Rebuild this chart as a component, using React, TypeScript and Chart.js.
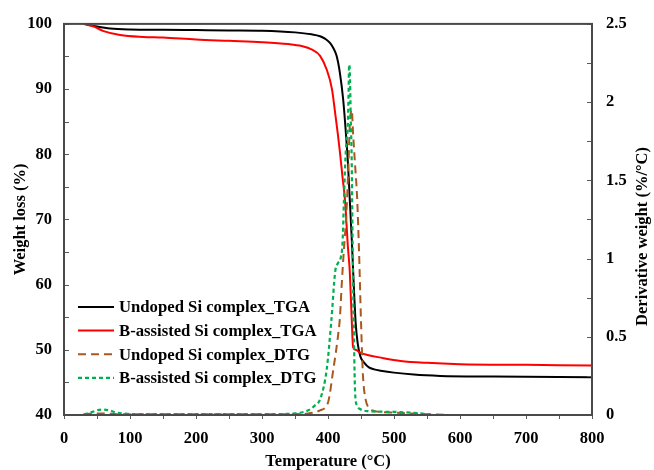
import { useEffect, useRef } from "react";
import { Chart, registerables } from "chart.js";

Chart.register(...registerables);

// ---- Data ----
const undopedTgaT = [30, 50, 70, 100, 150, 200, 250, 300, 350, 375, 388, 396, 403, 408, 413, 418, 423, 427, 430, 433, 436, 439, 442, 445, 449, 455, 462, 470, 480, 500, 530, 570, 650, 800];
const undopedTgaW = [100, 99.6, 99.3, 99.15, 99.1, 99.05, 99.0, 98.95, 98.7, 98.4, 98.1, 97.7, 97.1, 96.3, 95.1, 92.5, 88.4, 83.4, 79, 73, 67, 60, 54, 51, 49, 48, 47.3, 47.0, 46.8, 46.5, 46.2, 46.0, 45.9, 45.8];

const bAssistedTgaT = [30, 45, 60, 85, 120, 150, 200, 250, 300, 340, 360, 375, 388, 398, 406, 411, 415, 418, 422, 426, 430, 433, 436, 438, 442, 448, 460, 480, 510, 550, 600, 700, 800];
const bAssistedTgaW = [100, 99.6, 98.9, 98.3, 98.0, 97.9, 97.6, 97.4, 97.2, 96.9, 96.6, 96.1, 95.1, 93, 90, 86.2, 83, 80.4, 76.5, 72.7, 66, 62, 54.5, 50.4, 50.0, 49.6, 49.2, 48.8, 48.3, 48.0, 47.8, 47.7, 47.6];

const undopedDtgT = [30, 45, 60, 80, 120, 200, 300, 340, 370, 388, 400, 408, 415, 418, 421, 424, 428, 431, 433, 436, 438, 441, 444, 447, 450, 453, 457, 461, 466, 500, 550, 600, 800];
const undopedDtgV = [0.005, 0.01, 0.01, 0.005, 0.005, 0.005, 0.005, 0.005, 0.01, 0.03, 0.08, 0.29, 0.5, 0.62, 0.85, 1.05, 1.3, 1.6, 1.85, 1.95, 1.8, 1.6, 1.4, 1.05, 0.6, 0.25, 0.1, 0.05, 0.03, 0.015, 0.005, 0, 0];

const bAssistedDtgT = [30, 40, 50, 58, 68, 80, 95, 120, 200, 300, 350, 370, 380, 388, 398, 405, 411, 415, 419, 422, 424, 426, 428, 430, 431, 432, 433, 434.5, 436, 437, 438, 439.5, 441, 444, 448, 460, 500, 540, 560, 800];
const bAssistedDtgV = [0.005, 0.015, 0.03, 0.035, 0.03, 0.015, 0.008, 0.005, 0.005, 0.005, 0.01, 0.03, 0.06, 0.1, 0.29, 0.6, 0.92, 0.97, 1.0, 1.1, 1.35, 1.6, 1.75, 1.85, 2.02, 2.24, 2.2, 1.9, 1.6, 1.2, 0.85, 0.45, 0.15, 0.06, 0.04, 0.025, 0.02, 0.01, 0, 0];

const seriesNames = [
  "Undoped Si complex_TGA",
  "B-assisted Si complex_TGA",
  "Undoped Si complex_DTG",
  "B-assisted Si complex_DTG",
];

const xTitle = "Temperature (°C)";
const yTitle = "Weight loss (%)";
const y1Title = "Derivative weight (%/°C)";

const FONT = "'Liberation Serif', 'Times New Roman', serif";

export default function App() {
  const ref = useRef<HTMLCanvasElement>(null);

  useEffect(() => {
    if (!ref.current) return;
    const toPts = (xs: number[], ys: number[]) => xs.map((x, i) => ({ x, y: ys[i] }));

    const framePlugin = {
      id: "frame",
      afterDraw(chart: any) {
        const { ctx, chartArea: a, scales } = chart;
        ctx.save();
        // inner ticks
        ctx.strokeStyle = "#595959";
        ctx.lineWidth = 1;
        const ys = scales.y;
        ys.ticks.forEach((t: any) => {
          const p = Math.round(ys.getPixelForValue(t.value)) + 0.5;
          ctx.beginPath();
          ctx.moveTo(a.left, p);
          ctx.lineTo(a.left + 5, p);
          ctx.stroke();
        });
        const y1 = scales.y1;
        y1.ticks.forEach((t: any) => {
          const p = Math.round(y1.getPixelForValue(t.value)) + 0.5;
          ctx.beginPath();
          ctx.moveTo(a.right, p);
          ctx.lineTo(a.right - 5, p);
          ctx.stroke();
        });
        // frame
        ctx.strokeStyle = "#4a4a4a";
        ctx.lineWidth = 2;
        ctx.strokeRect(a.left, a.top, a.right - a.left, a.bottom - a.top);

        // right axis title (reads bottom to top)
        ctx.fillStyle = "#000";
        ctx.font = `bold 16.5px ${FONT}`;
        ctx.textAlign = "center";
        ctx.textBaseline = "middle";
        ctx.translate(y1.right - 11, (a.top + a.bottom) / 2 + 17);
        ctx.rotate(-Math.PI / 2);
        ctx.fillText(y1Title, 0, 0);
        ctx.setTransform(1, 0, 0, 1, 0, 0);

        // legend
        ctx.font = `bold 16.7px ${FONT}`;
        ctx.textBaseline = "middle";
        ctx.textAlign = "left";
        chart.data.datasets.forEach((ds: any, i: number) => {
          const yy = a.bottom - 108 + i * 23.6;
          const x0 = a.left + 14;
          ctx.strokeStyle = ds.borderColor;
          ctx.lineWidth = ds.borderWidth;
          ctx.setLineDash(ds.borderDash || []);
          ctx.beginPath();
          ctx.moveTo(x0, yy);
          ctx.lineTo(x0 + 36, yy);
          ctx.stroke();
          ctx.setLineDash([]);
          ctx.fillStyle = "#000";
          ctx.fillText(ds.label, x0 + 41, yy + 1);
        });
        ctx.restore();
      },
    };

    const tickFont = { family: FONT, size: 16.5, weight: "bold" as const };
    const titleFont = { family: FONT, size: 16.5, weight: "bold" as const, lineHeight: 1 };

    const chart = new Chart(ref.current, {
      type: "line",
      data: {
        datasets: [
          {
            label: seriesNames[0],
            data: toPts(undopedTgaT, undopedTgaW),
            borderColor: "#000000",
            borderWidth: 2,
            yAxisID: "y",
            order: 3,
          },
          {
            label: seriesNames[1],
            data: toPts(bAssistedTgaT, bAssistedTgaW),
            borderColor: "#FF0000",
            borderWidth: 2,
            yAxisID: "y",
            order: 2,
          },
          {
            label: seriesNames[2],
            data: toPts(undopedDtgT, undopedDtgV),
            borderColor: "#A85A1E",
            borderWidth: 2,
            borderDash: [8, 5],
            yAxisID: "y1",
            order: 1,
          },
          {
            label: seriesNames[3],
            data: toPts(bAssistedDtgT, bAssistedDtgV),
            borderColor: "#00B050",
            borderWidth: 2.2,
            borderDash: [4, 3],
            yAxisID: "y1",
            order: 0,
          },
        ] as any,
      },
      options: {
        responsive: false,
        animation: false,
        layout: { padding: { top: 21, left: 0, right: 0, bottom: 0 } },
        elements: {
          point: { radius: 0 },
          line: { cubicInterpolationMode: "monotone", fill: false },
        },
        plugins: {
          legend: { display: false },
          tooltip: { enabled: false },
        },
        scales: {
          x: {
            type: "linear",
            min: 0,
            max: 800,
            ticks: {
              stepSize: 50,
              autoSkip: false,
              maxRotation: 0,
              color: "#000",
              font: tickFont,
              padding: 10,
              callback: (v: any) => (Number(v) % 100 === 0 ? String(v) : ""),
            },
            grid: { drawOnChartArea: false, drawTicks: true, tickLength: 4, color: "#595959" },
            border: { display: false },
            title: { display: true, text: xTitle, color: "#000", font: titleFont, padding: { top: 0, bottom: 0 } },
            afterFit: (s: any) => {
              s.height = 55;
            },
          },
          y: {
            type: "linear",
            position: "left",
            min: 40,
            max: 100,
            ticks: {
              stepSize: 5,
              autoSkip: false,
              color: "#000",
              font: tickFont,
              padding: 12,
              callback: (v: any) => (Number(v) % 10 === 0 ? String(v) : ""),
            },
            grid: { drawOnChartArea: false, drawTicks: false },
            border: { display: false },
            title: { display: true, text: yTitle, color: "#000", font: titleFont, padding: { top: 12, bottom: 0 } },
            afterFit: (s: any) => {
              s.width = 64;
            },
          },
          y1: {
            type: "linear",
            position: "right",
            min: 0,
            max: 2.5,
            ticks: {
              stepSize: 0.25,
              autoSkip: false,
              color: "#000",
              font: tickFont,
              padding: 14,
              callback: (v: any) => {
                const n = Number(v);
                return Math.abs(n * 2 - Math.round(n * 2)) < 1e-6 ? String(Math.round(n * 10) / 10) : "";
              },
            },
            grid: { drawOnChartArea: false, drawTicks: false },
            border: { display: false },
            title: { display: false, text: y1Title },
            afterFit: (s: any) => {
              s.width = 62;
            },
          },
        },
      } as any,
      plugins: [framePlugin],
    });

    return () => chart.destroy();
  }, []);

  return (
    <div style={{ position: "fixed", left: 0, top: 0, width: 654, height: 470, background: "#fff" }}>
      <canvas ref={ref} width={654} height={470} style={{ display: "block" }} />
    </div>
  );
}
